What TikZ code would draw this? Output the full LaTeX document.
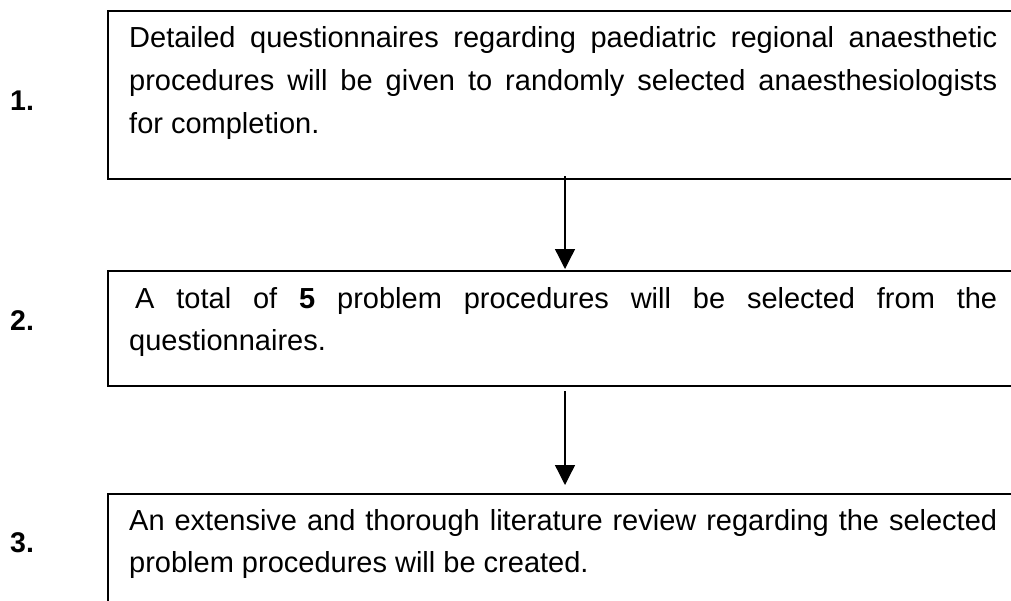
\documentclass[tikz,border=0pt]{standalone}
\usepackage{fontspec}
\setmainfont{Liberation Sans}
\usetikzlibrary{arrows.meta}
\tikzset{
  stepbox/.style={draw=black, line width=2pt, rectangle, minimum width=914pt, anchor=north west, inner sep=0pt},
  steptext/.style={anchor=base west, inner sep=0pt, text width=868pt, align=justify,
    font=\fontsize{29}{42.7}\selectfont},
  numlabel/.style={anchor=base west, inner sep=0pt, font=\fontsize{28.5}{30}\selectfont\bfseries},
  flowarrow/.style={draw=black, line width=1.3pt, -{Triangle[width=20pt,length=20pt]}}
}
\begin{document}
\begin{tikzpicture}[x=1pt,y=-1pt]
\useasboundingbox (0,0) rectangle (1011,600);
\clip (0,0) rectangle (1011,600);
% boxes
\node[stepbox, minimum height=168pt] (b1) at (107,10) {};
\node[stepbox, minimum height=115pt] (b2) at (107,270) {};
\node[stepbox, minimum height=150pt] (b3) at (107,493) {};
% texts
\node[steptext] (t1) at (129,47.7) {Detailed questionnaires regarding paediatric regional anaesthetic\linebreak procedures will be given to randomly selected anaesthesiologists\linebreak for completion.};
\node[steptext] (t2) at (129,308) {\hspace*{6pt}A total of \textbf{5} problem procedures will be selected from the\linebreak questionnaires.};
\node[steptext] (t3) at (129,530) {An extensive and thorough literature review regarding the selected\linebreak problem procedures will be created.};
% numbers
\node[numlabel] (n1) at (10,110) {1.};
\node[numlabel] (n2) at (10,330) {2.};
\node[numlabel] (n3) at (10,552) {3.};
% arrows
\draw[flowarrow] ([yshift=4pt]b1.south) -- ([yshift=1pt]b2.north);
\draw[flowarrow] ([yshift=-4pt]b2.south) -- ([yshift=8pt]b3.north);
\end{tikzpicture}
\end{document}
